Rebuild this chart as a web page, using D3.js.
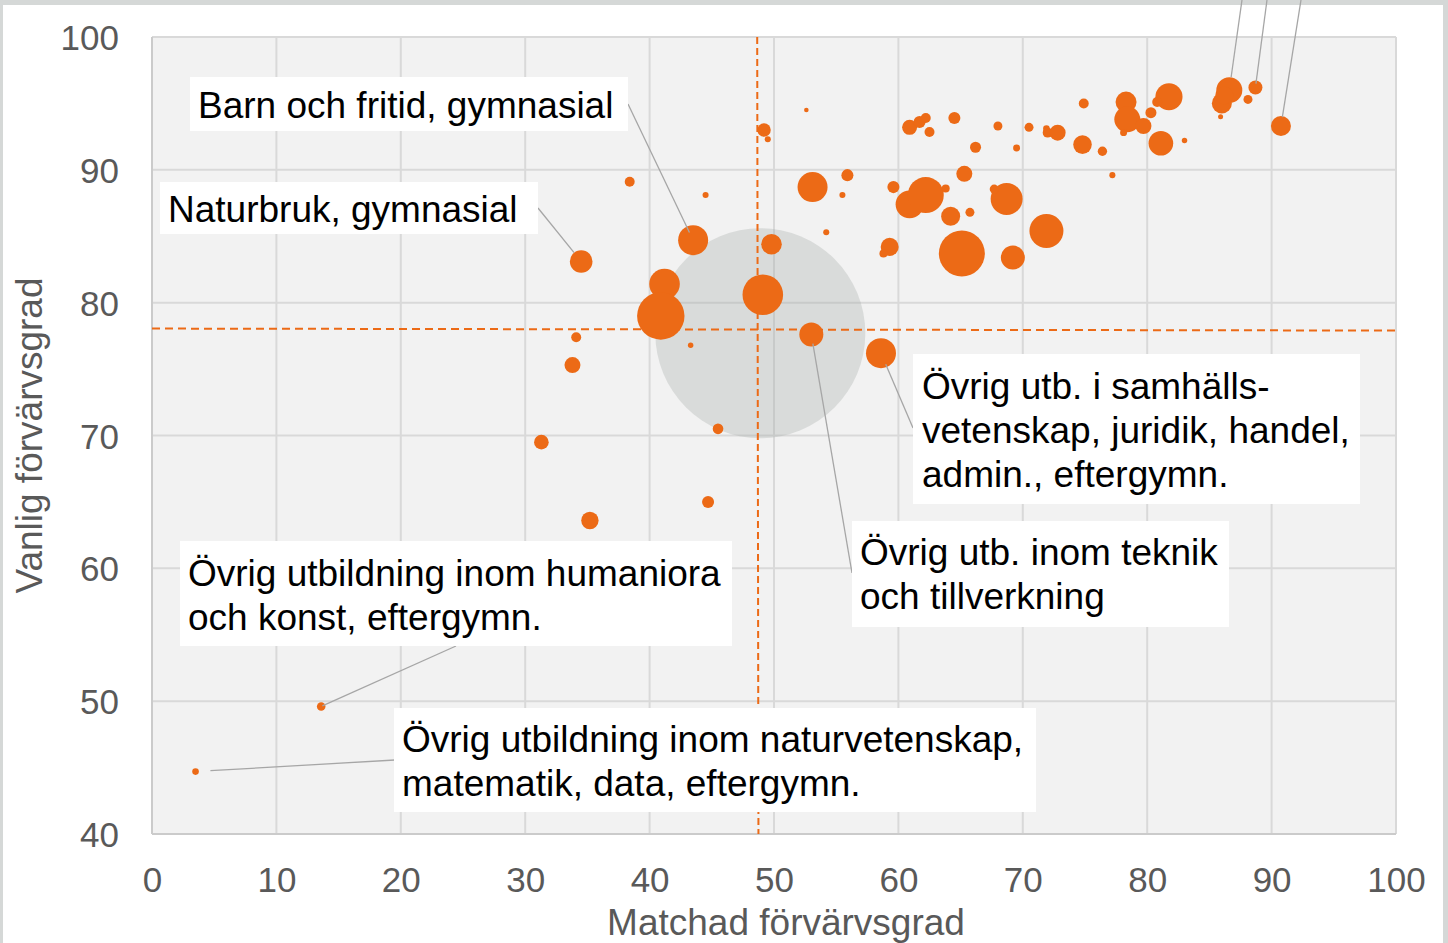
<!DOCTYPE html>
<html>
<head>
<meta charset="utf-8">
<script src="https://cdn.jsdelivr.net/npm/d3@7"></script>
<style>
html,body{margin:0;padding:0;background:#fff;}
svg{display:block;}
</style>
</head>
<body>
<div id="chart"></div>
<script>
// ---- Data ----
const matchad = [3.5, 13.6, 31.3, 35.2, 33.8, 34.1, 34.5, 38.4, 44.5, 43.5, 41.2, 40.9, 43.3, 45.5, 44.7, 49.1, 49.8, 53.0, 58.6, 49.2, 49.5, 52.6, 53.1, 55.9, 55.5, 54.2, 59.6, 59.3, 58.8, 60.9, 61.7, 62.2, 62.5, 64.5, 66.2, 68.0, 69.5, 70.5, 71.9, 72.0, 72.8, 74.9, 74.8, 76.4, 78.3, 78.4, 78.1, 79.7, 80.3, 81.1, 83.0, 81.75, 80.8, 86.6, 86.0, 85.9, 88.1, 88.7, 90.75, 60.9, 62.2, 63.8, 64.2, 65.3, 65.75, 65.1, 68.7, 67.7, 69.2, 71.9, 77.2, 86.2];
const vanlig = [44.7, 49.6, 69.5, 63.6, 75.3, 77.4, 83.1, 89.1, 88.1, 84.7, 81.4, 79.0, 76.8, 70.5, 65.0, 80.6, 84.4, 77.6, 76.2, 93.0, 92.3, 94.5, 88.7, 89.6, 88.1, 85.3, 88.7, 84.2, 83.7, 93.2, 93.6, 93.9, 92.85, 93.9, 91.7, 93.3, 91.65, 93.2, 93.1, 92.8, 92.8, 95.0, 91.9, 91.4, 95.1, 93.8, 92.8, 93.3, 94.3, 92.0, 92.2, 95.5, 95.1, 96.0, 95.0, 94.0, 95.3, 96.2, 93.3, 87.4, 88.1, 88.6, 86.5, 89.7, 86.8, 83.7, 87.8, 88.55, 83.4, 85.4, 89.6, 95.6];
const storlek = [1.9, 3.2, 9.3, 13.1, 11.1, 4.3, 22.2, 4.3, 1.6, 39.1, 40.6, 97.5, 1.3, 4.9, 6.3, 71.5, 18.4, 25, 39.1, 7.8, 1.6, 0.9, 39.1, 6.3, 1.6, 1.6, 6.3, 14.1, 2.8, 9.8, 6.3, 4.3, 4.3, 6.3, 5.3, 3.5, 2.1, 3.5, 1.9, 4.3, 11.1, 4.3, 15, 3.8, 19.1, 29.3, 2.1, 11.1, 5.3, 26.3, 1.3, 32, 4.3, 29.3, 17.4, 1.1, 3.5, 8.5, 17.4, 34, 56.3, 2.8, 15.7, 11.1, 3.5, 91.8, 44.4, 3.5, 25, 50.2, 1.6, 14.1];

// Total (average) bubble
const totalX = [48.9];
const totalY = [77.7];
const totalSize = [1914];

// Reference (dashed) lines
const refVerticalX = [48.65, 48.75];   // at y=100 and y=40
const refHorizontalY = [78.05, 77.9];  // at x=0 and x=100

const xTicks = [0, 10, 20, 30, 40, 50, 60, 70, 80, 90, 100];
const yTicks = [40, 50, 60, 70, 80, 90, 100];
const xTitle = "Matchad förvärvsgrad";
const yTitle = "Vanlig förvärvsgrad";

// Labels: text lines and index of labelled point
const labelTexts = [
  ["Barn och fritid, gymnasial"],
  ["Naturbruk, gymnasial"],
  ["Övrig utbildning inom humaniora", "och konst, eftergymn."],
  ["Övrig utbildning inom naturvetenskap,", "matematik, data, eftergymn."],
  ["Övrig utb. i samhälls-", "vetenskap, juridik, handel,", "admin., eftergymn."],
  ["Övrig utb. inom teknik", "och tillverkning"]
];
const labelPoint = [9, 6, 1, 0, 18, 17];
// points whose labels fall outside the visible picture (leader lines only)
const offscreenLabelPoint = [53, 57, 58];

// ---- Layout ----
const W = 1448, H = 943;
const x = d3.scaleLinear().domain([0, 100]).range([152, 1396]);
const y = d3.scaleLinear().domain([40, 100]).range([834, 37]);
const r = d3.scaleSqrt().domain([0, 100]).range([0, 24]);

const ORANGE = "#ec6a16";
const FONT = "'Liberation Sans', Arial, Helvetica, sans-serif";

// label box layout (pixels)
const labelLayout = [
  {box: [190, 77, 628, 131], tx: 198, base: [118], anchor: [628, 104], f: 0.57},
  {box: [160, 182, 538, 234], tx: 168, base: [222], anchor: [538, 208], f: 1.0},
  {box: [180, 541, 732, 646], tx: 188, base: [586, 630], anchor: [456, 646], f: 0.3},
  {box: [394, 708, 1036, 812], tx: 402, base: [752, 796], anchor: [395, 760], f: 4.5},
  {box: [913, 354, 1360, 504], tx: 922, base: [399, 443, 487], anchor: [913, 428], f: 0.8},
  {box: [852, 521, 1229, 627], tx: 860, base: [565, 609], anchor: [852, 573], f: 0.77}
];
const offscreenAnchors = [[1242, 0], [1267, 0], [1301, 0]];
const offscreenF = [1.0, 0.55, 0.9];

const svg = d3.select("#chart").append("svg")
  .attr("width", W).attr("height", H);

// outer frame
svg.append("rect").attr("x", 0).attr("y", 0).attr("width", W).attr("height", H).attr("fill", "#d5d8d7");
svg.append("rect").attr("x", 3).attr("y", 5).attr("width", 1440).attr("height", H - 5).attr("fill", "#ffffff");

// plot background
svg.append("rect")
  .attr("x", x(0)).attr("y", y(100))
  .attr("width", x(100) - x(0)).attr("height", y(40) - y(100))
  .attr("fill", "#f2f2f2");

// gridlines
svg.append("g").selectAll("line").data(xTicks).join("line")
  .attr("x1", d => x(d)).attr("x2", d => x(d))
  .attr("y1", y(100)).attr("y2", y(40))
  .attr("stroke", "#d9d9d9").attr("stroke-width", 2);
svg.append("g").selectAll("line").data(yTicks).join("line")
  .attr("x1", x(0)).attr("x2", x(100))
  .attr("y1", d => y(d)).attr("y2", d => y(d))
  .attr("stroke", "#d9d9d9").attr("stroke-width", 2);
// axis lines
svg.append("line").attr("x1", x(0)).attr("x2", x(0)).attr("y1", y(100)).attr("y2", y(40))
  .attr("stroke", "#cbcbcb").attr("stroke-width", 2);
svg.append("line").attr("x1", x(0)).attr("x2", x(100)).attr("y1", y(40)).attr("y2", y(40))
  .attr("stroke", "#cbcbcb").attr("stroke-width", 2);

// tick labels via axes
const xAxis = d3.axisBottom(x).tickValues(xTicks).tickSize(0).tickPadding(0).tickFormat(d3.format("d"));
const gx = svg.append("g").attr("transform", `translate(0, ${y(40)})`).call(xAxis);
gx.select(".domain").remove();
gx.selectAll("text").attr("font-family", FONT).attr("font-size", 35).attr("fill", "#595959")
  .attr("dy", null).attr("y", 58);

const yAxis = d3.axisLeft(y).tickValues(yTicks).tickSize(0).tickPadding(0).tickFormat(d3.format("d"));
const gy = svg.append("g").attr("transform", `translate(${x(0) - 33}, 0)`).call(yAxis);
gy.select(".domain").remove();
gy.selectAll("text").attr("font-family", FONT).attr("font-size", 35).attr("fill", "#595959")
  .attr("dy", "0.36em").attr("x", 0);

// axis titles
svg.append("text").attr("x", 786).attr("y", 935).attr("text-anchor", "middle")
  .attr("font-family", FONT).attr("font-size", 37).attr("fill", "#595959").text(xTitle);
svg.append("text").attr("transform", `translate(42, ${(y(40) + y(100)) / 2}) rotate(-90)`)
  .attr("text-anchor", "middle")
  .attr("font-family", FONT).attr("font-size", 37).attr("fill", "#595959").text(yTitle);

// total bubble
svg.append("g").selectAll("circle").data(totalX.map((d, i) => ({x: d, y: totalY[i], s: totalSize[i]}))).join("circle")
  .attr("cx", d => x(d.x)).attr("cy", d => y(d.y)).attr("r", d => r(d.s))
  .attr("fill", "#a4aaa7").attr("fill-opacity", 0.32);

// dashed reference lines
svg.append("line")
  .attr("x1", x(refVerticalX[0])).attr("y1", y(100))
  .attr("x2", x(refVerticalX[1])).attr("y2", y(40))
  .attr("stroke", ORANGE).attr("stroke-width", 2).attr("stroke-dasharray", "7,4");
svg.append("line")
  .attr("x1", x(0)).attr("y1", y(refHorizontalY[0]))
  .attr("x2", x(100)).attr("y2", y(refHorizontalY[1]))
  .attr("stroke", ORANGE).attr("stroke-width", 2).attr("stroke-dasharray", "8,5");

// bubbles
const pts = matchad.map((d, i) => ({x: d, y: vanlig[i], s: storlek[i]}));
svg.append("g").selectAll("circle").data(pts).join("circle")
  .attr("cx", d => x(d.x)).attr("cy", d => y(d.y)).attr("r", d => r(d.s))
  .attr("fill", ORANGE);

// leader lines
function leaderEnd(p, anchor, f) {
  const cx = x(p.x), cy = y(p.y), rr = r(p.s);
  const dx = anchor[0] - cx, dy = anchor[1] - cy;
  const dist = Math.hypot(dx, dy);
  return [cx + dx / dist * rr * f, cy + dy / dist * rr * f];
}
const leaders = [];
labelPoint.forEach((pi, i) => {
  const L = labelLayout[i];
  leaders.push({a: L.anchor, b: leaderEnd(pts[pi], L.anchor, L.f)});
});
offscreenLabelPoint.forEach((pi, i) => {
  leaders.push({a: offscreenAnchors[i], b: leaderEnd(pts[pi], offscreenAnchors[i], offscreenF[i])});
});
svg.append("g").selectAll("line").data(leaders).join("line")
  .attr("x1", d => d.a[0]).attr("y1", d => d.a[1])
  .attr("x2", d => d.b[0]).attr("y2", d => d.b[1])
  .attr("stroke", "#a6a6a6").attr("stroke-width", 1.3);

// label boxes
const lg = svg.append("g").selectAll("g").data(labelTexts.map((t, i) => ({t, L: labelLayout[i]}))).join("g");
lg.append("rect")
  .attr("x", d => d.L.box[0]).attr("y", d => d.L.box[1])
  .attr("width", d => d.L.box[2] - d.L.box[0]).attr("height", d => d.L.box[3] - d.L.box[1])
  .attr("fill", "#ffffff");
lg.each(function(d) {
  const g = d3.select(this);
  d.t.forEach((line, j) => {
    g.append("text").attr("x", d.L.tx).attr("y", d.L.base[j])
      .attr("font-family", FONT).attr("font-size", 37).attr("fill", "#000").text(line);
  });
});
</script>
</body>
</html>
